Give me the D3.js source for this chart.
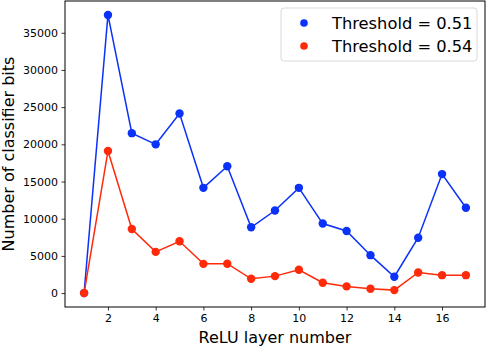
<!DOCTYPE html>
<html>
<head>
<meta charset="utf-8">
<script src="https://cdn.jsdelivr.net/npm/d3@7"></script>
<style>
	body { margin: 0; background: #fff; }
	text { font-family: "DejaVu Sans", sans-serif; }
</style>
</head>
<body>
<div id="chart"></div>
<script>
var layers = [1, 2, 3, 4, 5, 6, 7, 8, 9, 10, 11, 12, 13, 14, 15, 16, 17];
var bits051 = [0, 37400, 21500, 20000, 24150, 14150, 17050, 8850, 11100, 14150, 9350, 8350, 5100, 2200, 7450, 16000, 11480];
var bits054 = [0, 19100, 8620, 5540, 6960, 3930, 3950, 1920, 2280, 3130, 1390, 900, 590, 400, 2770, 2410, 2410];
var xTicks = [2, 4, 6, 8, 10, 12, 14, 16];
var yTicks = [0, 5000, 10000, 15000, 20000, 25000, 30000, 35000];
var seriesNames = ["Threshold = 0.51", "Threshold = 0.54"];
var seriesColors = ["#0a32f8", "#ff2a0a"];

var conf = {
	width: 486, height: 348,
	left: 65, right: 485, top: 1, bottom: 307
};

var x = d3.scaleLinear().domain([0.2, 17.8]).range([conf.left, conf.right]);
var y = d3.scaleLinear().domain([-1870, 39270]).range([conf.bottom, conf.top]);

var $svg = d3.select("#chart").append("svg")
	.attr("width", conf.width)
	.attr("height", conf.height);

// axes
var xAxis = d3.axisBottom(x).tickValues(xTicks).tickSize(3.5).tickPadding(3.5).tickFormat(d3.format("d"));
var yAxis = d3.axisLeft(y).tickValues(yTicks).tickSize(3.5).tickPadding(3.5).tickFormat(d3.format("d"));

var $xa = $svg.append("g")
	.attr("transform", "translate(0," + conf.bottom + ")")
	.call(xAxis);
var $ya = $svg.append("g")
	.attr("transform", "translate(" + conf.left + ",0)")
	.call(yAxis);
[$xa, $ya].forEach(function(a) {
	a.select(".domain").remove();
	a.selectAll("text").attr("font-size", 11).attr("fill", "#000").style("font-family", "DejaVu Sans");
	a.selectAll("line").attr("stroke", "#000").attr("stroke-width", 0.8);
});

// frame
$svg.append("rect")
	.attr("x", conf.left)
	.attr("y", conf.top)
	.attr("width", conf.right - conf.left)
	.attr("height", conf.bottom - conf.top)
	.attr("fill", "none")
	.attr("stroke", "#000")
	.attr("stroke-width", 1);

// lines + points
var line = d3.line()
	.x(function(d) { return x(d.x); })
	.y(function(d) { return y(d.y); });

[bits051, bits054].forEach(function(vals, si) {
	var pts = layers.map(function(l, i) { return { x: l, y: vals[i] }; });
	var $g = $svg.append("g").attr("class", "series-" + si);
	$g.append("path")
		.datum(pts)
		.attr("d", line)
		.attr("fill", "none")
		.attr("stroke", seriesColors[si])
		.attr("stroke-width", 1.5);
	$g.selectAll("circle").data(pts).enter()
		.append("circle")
		.attr("cx", function(d) { return x(d.x); })
		.attr("cy", function(d) { return y(d.y); })
		.attr("r", 4.2)
		.attr("fill", seriesColors[si]);
});

// labels
$svg.append("text")
	.attr("x", (conf.left + conf.right) / 2)
	.attr("y", 343)
	.attr("text-anchor", "middle")
	.attr("font-size", 16)
	.text("ReLU layer number");

$svg.append("text")
	.attr("transform", "translate(14," + ((conf.top + conf.bottom) / 2) + ") rotate(-90)")
	.attr("text-anchor", "middle")
	.attr("font-size", 16)
	.text("Number of classifier bits");

// legend
var $leg = $svg.append("g");
$leg.append("rect")
	.attr("x", 281).attr("y", 8)
	.attr("width", 196).attr("height", 53)
	.attr("rx", 3)
	.attr("fill", "#fff").attr("fill-opacity", 0.8)
	.attr("stroke", "#d9d9d9").attr("stroke-width", 1);
seriesNames.forEach(function(name, i) {
	var cy = 23 + i * 23;
	$leg.append("circle")
		.attr("cx", 304).attr("cy", cy).attr("r", 3.8)
		.attr("fill", seriesColors[i]);
	$leg.append("text")
		.attr("x", 332).attr("y", cy + 6)
		.attr("font-size", 16.3)
		.text(name);
});
</script>
</body>
</html>
